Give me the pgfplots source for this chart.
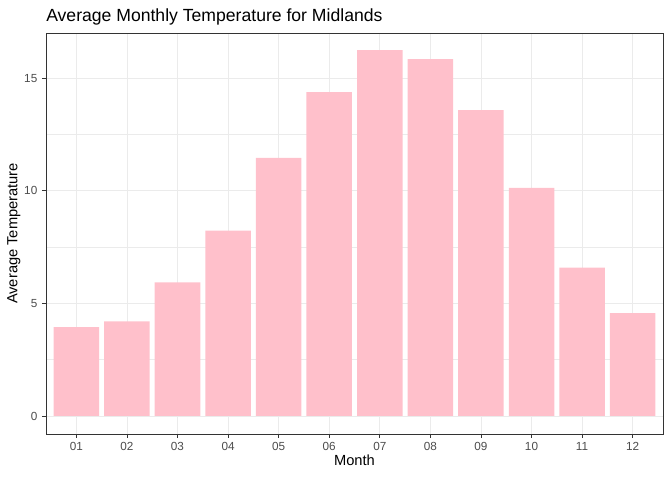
\documentclass[border=0pt]{standalone}
\usepackage{pgfplots}
\pgfplotsset{compat=1.18}
\usepackage{fontspec}
\setmainfont{Liberation Sans}
\definecolor{pinkf}{HTML}{FFC0CB}
\definecolor{g92}{gray}{0.92}
\definecolor{g30}{gray}{0.30}
\definecolor{g20}{gray}{0.20}
\begin{document}
\begin{tikzpicture}
\begin{axis}[name=ax, scale only axis, width=462.75pt, height=300.75pt,
  xmin=0.4, xmax=12.6, ymin=-0.8, ymax=17.0,
  xtick={1,...,12}, xticklabels={01,02,03,04,05,06,07,08,09,10,11,12},
  ytick={0,5,10,15}, minor ytick={2.5,7.5,12.5},
  grid=both, major grid style={g92, line width=0.6pt}, minor grid style={g92, line width=0.3pt},
  axis line style={g20, line width=0.6pt},
  tick style={g20, line width=0.6pt}, tick align=outside, major tick length=3pt, minor tick length=0pt,
  xtick pos=bottom, ytick pos=left,
  ticklabel style={font=\fontsize{8.8}{10}\selectfont, text=g30},
  /pgf/number format/assume math mode=true,
  ybar, bar width=0.9, bar shift=0pt, axis on top=false,
  xlabel={Month}, ylabel={Average Temperature},
  label style={font=\fontsize{11}{13}\selectfont},
  xlabel style={yshift=4pt}, ylabel style={yshift=-4pt},
]
\addplot[fill=pinkf, draw=none] coordinates {(1,3.94)(2,4.2)(3,5.93)(4,8.23)(5,11.46)(6,14.38)(7,16.24)(8,15.84)(9,13.58)(10,10.13)(11,6.59)(12,4.56)};
\end{axis}
\node[anchor=base west, font=\fontsize{13.2}{15}\selectfont, inner sep=0] at ([yshift=8.5pt]ax.north west) {Average Monthly Temperature for Midlands};
\pgfresetboundingbox
\path ([shift={(-34.5pt,-34.5pt)}]ax.south west) rectangle ([shift={(6.75pt,24.75pt)}]ax.north east);
\end{tikzpicture}
\end{document}
